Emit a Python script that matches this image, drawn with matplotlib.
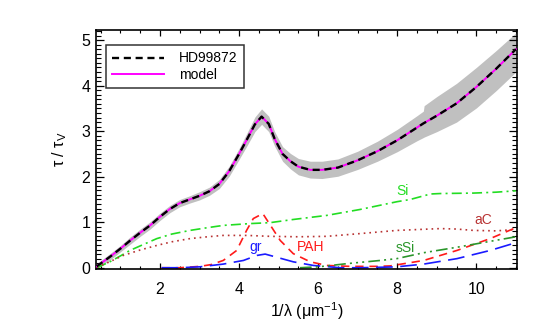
import matplotlib
matplotlib.use("Agg")
import matplotlib.pyplot as plt
from matplotlib.ticker import MultipleLocator
import numpy as np

plt.rcParams['font.family'] = ['Liberation Sans', 'DejaVu Sans']
plt.rcParams['mathtext.fontset'] = 'custom'
plt.rcParams['mathtext.rm'] = 'Liberation Sans'

# ---------------- data ----------------
obs_x = [0.40, 0.75, 1.00, 1.25, 1.50, 1.75, 2.00, 2.25, 2.50, 2.75, 3.00, 3.25, 3.50,
         3.75, 4.00, 4.20, 4.40, 4.57, 4.75, 4.90, 5.10, 5.30, 5.50, 5.80, 6.10, 6.50,
         7.00, 7.50, 8.00, 8.50, 8.66, 8.68, 9.00, 9.50, 10.00, 10.50, 11.00]
obs_y = [0.03, 0.25, 0.42, 0.60, 0.77, 0.93, 1.12, 1.29, 1.42, 1.50, 1.58, 1.68, 1.84,
         2.12, 2.50, 2.82, 3.15, 3.32, 3.16, 2.83, 2.50, 2.34, 2.22, 2.15, 2.15, 2.20,
         2.36, 2.56, 2.80, 3.08, 3.17, 3.18, 3.34, 3.61, 3.97, 4.37, 4.80]
err_lo = [0.06, 0.07, 0.07, 0.08, 0.08, 0.08, 0.08, 0.08, 0.08, 0.08, 0.09, 0.09, 0.10,
          0.11, 0.12, 0.14, 0.16, 0.17, 0.17, 0.16, 0.16, 0.17, 0.18, 0.18, 0.19, 0.19,
          0.20, 0.22, 0.25, 0.29, 0.31, 0.31, 0.35, 0.41, 0.46, 0.48, 0.50]
err_hi = [0.06, 0.07, 0.07, 0.08, 0.08, 0.08, 0.08, 0.08, 0.08, 0.08, 0.09, 0.09, 0.10,
          0.11, 0.12, 0.14, 0.16, 0.17, 0.17, 0.16, 0.16, 0.17, 0.18, 0.19, 0.19, 0.19,
          0.20, 0.22, 0.24, 0.26, 0.27, 0.38, 0.42, 0.44, 0.43, 0.40, 0.36]
model_y = [0.03, 0.25, 0.42, 0.60, 0.77, 0.93, 1.12, 1.29, 1.42, 1.50, 1.58, 1.68, 1.84,
           2.12, 2.50, 2.82, 3.15, 3.32, 3.16, 2.83, 2.50, 2.34, 2.22, 2.15, 2.15, 2.20,
           2.36, 2.56, 2.80, 3.08, 3.17, 3.18, 3.34, 3.61, 3.97, 4.37, 4.80]

si_x = [0.40, 0.73, 1.00, 1.24, 1.50, 1.92, 2.30, 2.76, 3.20, 3.60, 4.28, 4.78, 5.37,
        6.22, 7.06, 7.99, 8.33, 8.84, 9.09, 9.93, 10.50, 11.00]
si_y = [0.00, 0.13, 0.26, 0.38, 0.48, 0.64, 0.74, 0.82, 0.88, 0.93, 0.97, 0.99, 1.06,
        1.15, 1.28, 1.45, 1.50, 1.62, 1.63, 1.64, 1.66, 1.69]

ac_x = [0.40, 0.70, 1.07, 1.50, 1.92, 2.30, 2.76, 3.20, 3.60, 4.20, 4.78, 5.50, 6.22,
        7.06, 7.99, 9.09, 9.50, 9.93, 10.50, 11.00]
ac_y = [0.01, 0.12, 0.27, 0.39, 0.49, 0.57, 0.64, 0.68, 0.71, 0.71, 0.69, 0.68, 0.69,
        0.75, 0.82, 0.86, 0.85, 0.82, 0.81, 0.84]

pah_x = [2.04, 2.50, 3.01, 3.30, 3.60, 3.94, 4.19, 4.36, 4.60, 4.78, 5.04, 5.37, 5.80,
         6.22, 6.81, 7.49, 7.82, 8.67, 9.51, 10.35, 11.00]
pah_y = [0.00, 0.00, 0.03, 0.07, 0.16, 0.38, 0.82, 1.08, 1.19, 0.95, 0.60, 0.31, 0.13,
         0.05, 0.03, 0.03, 0.04, 0.16, 0.38, 0.64, 0.88]

gr_x = [2.04, 2.50, 3.01, 3.60, 4.11, 4.45, 4.66, 4.87, 5.37, 5.88, 6.56, 7.06, 7.56,
        7.99, 8.67, 9.51, 10.35, 11.00]
gr_y = [0.00, 0.00, 0.02, 0.08, 0.16, 0.27, 0.30, 0.25, 0.13, 0.05, 0.00, 0.00, 0.01,
        0.02, 0.08, 0.20, 0.38, 0.55]

ssi_x = [5.54, 6.00, 6.22, 6.73, 7.57, 7.99, 8.67, 9.51, 10.35, 11.00]
ssi_y = [0.00, 0.02, 0.04, 0.09, 0.16, 0.20, 0.33, 0.45, 0.58, 0.68]

labels = ['Si', 'aC', 'PAH', 'sSi', 'gr']
label_x = [8.14, 10.18, 5.82, 8.21, 4.43]
label_y = [1.68, 1.04, 0.46, 0.44, 0.45]

# ---------------- plot ----------------
fig = plt.figure(figsize=(5.45, 3.31), dpi=100)
ax = fig.add_axes([0.176, 0.187, 0.948 - 0.176, 0.909 - 0.187])

ox = np.array(obs_x)
oy = np.array(obs_y)
ax.fill_between(ox, oy - np.array(err_lo), oy + np.array(err_hi),
                color='#c0c0c0', lw=0, zorder=1)

c_si = '#22dd22'
c_ac = '#b83232'
c_pah = '#ff1a1a'
c_gr = '#1a1aff'
c_ssi = '#2a962a'

ax.plot(si_x, si_y, color=c_si, lw=1.2, dashes=(6, 2.5, 1.2, 2.5), zorder=2)
ax.plot(ac_x, ac_y, color=c_ac, lw=1.2, dashes=(1.0, 2.4), zorder=2)
ax.plot(pah_x, pah_y, color=c_pah, lw=1.2, dashes=(5, 3.5), zorder=2)
ax.plot(gr_x, gr_y, color=c_gr, lw=1.2, dashes=(10, 4.5), zorder=2)
ax.plot(ssi_x, ssi_y, color=c_ssi, lw=1.2,
        dashes=(7, 2.5, 1.2, 2.5, 1.2, 2.5, 1.2, 2.5), zorder=2)

colors = [c_si, c_ac, c_pah, c_ssi, c_gr]
for t, x, y, c in zip(labels, label_x, label_y, colors):
    ax.text(x, y, t, color=c, fontsize=10, ha='center', va='center', zorder=3)

ax.plot(obs_x, model_y, color='#ff00ff', lw=1.4, zorder=4, label='model')
ax.plot(obs_x, obs_y, color='black', lw=1.7, dashes=(3, 2), zorder=5, label='HD99872')

ax.set_xlim(0.38, 11.02)
ax.set_ylim(-0.03, 5.22)

ax.xaxis.set_major_locator(MultipleLocator(2))
ax.xaxis.set_minor_locator(MultipleLocator(0.5))
ax.yaxis.set_major_locator(MultipleLocator(1))
ax.yaxis.set_minor_locator(MultipleLocator(0.1))

ax.tick_params(axis='x', which='major', direction='in', length=4.3, width=0.9,
               top=True, bottom=True, labelsize=11.5, pad=9)
ax.tick_params(axis='x', which='minor', direction='in', length=2.2, width=0.8,
               top=True, bottom=True)
ax.tick_params(axis='y', which='major', direction='in', length=6.0, width=0.9,
               left=True, right=True, labelsize=11.5, pad=4)
ax.tick_params(axis='y', which='minor', direction='in', length=3.4, width=0.8,
               left=True, right=True)
for s in ax.spines.values():
    s.set_linewidth(1.2)

ax.set_xlabel('1/λ (μm$^{\\mathregular{-1}}$)', fontsize=11.5, labelpad=3)
ax.set_ylabel('τ / τ$_{\\mathregular{V}}$', fontsize=11.5, labelpad=9)

h, l = ax.get_legend_handles_labels()
leg = ax.legend(h[::-1], l[::-1], loc='upper left', bbox_to_anchor=(0.024, 0.937),
                borderaxespad=0, fontsize=10, frameon=True, fancybox=False,
                edgecolor='black', handlelength=3.7, handletextpad=1.1,
                borderpad=0.45, labelspacing=0.15)
leg.get_frame().set_linewidth(1.1)

fig.savefig('out.png', dpi=100)
